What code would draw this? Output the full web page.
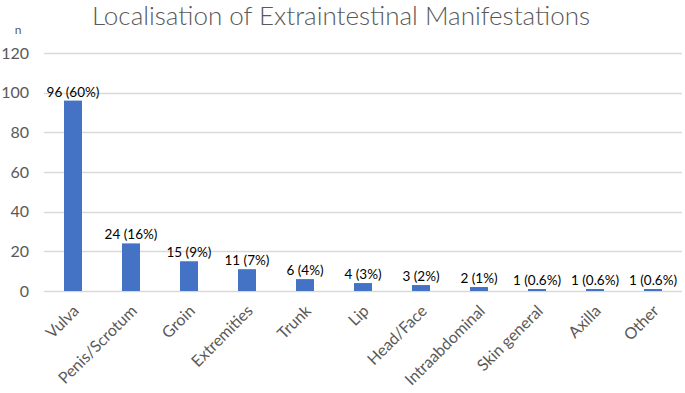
<!DOCTYPE html>
<html>
<head>
<meta charset="utf-8">
<script src="https://cdn.jsdelivr.net/npm/d3@7"></script>
<style>
  body { margin: 0; background: #fff; }
</style>
</head>
<body>
<div id="chart"></div>
<script>
// categories and counts
const categories = ["Vulva", "Penis/Scrotum", "Groin", "Extremities", "Trunk", "Lip",
  "Head/Face", "Intraabdominal", "Skin general", "Axilla", "Other"];
const counts = [96, 24, 15, 11, 6, 4, 3, 2, 1, 1, 1];
const percents = ["60%", "16%", "9%", "7%", "4%", "3%", "2%", "1%", "0.6%", "0.6%", "0.6%"];
const yTicks = [0, 20, 40, 60, 80, 100, 120];

const width = 685;
const height = 393;
const margin = { top: 53, right: 3, bottom: 102, left: 44 };

const font = "Lato, Carlito, 'Open Sans', sans-serif";

let svg = d3
  .select("#chart")
  .append("svg")
  .attr("width", width)
  .attr("height", height)
  .style("display", "block");

// title
svg
  .append("text")
  .attr("x", 341)
  .attr("y", 25)
  .attr("text-anchor", "middle")
  .style("font-family", font)
  .style("font-weight", 300)
  .style("font-size", "26px")
  .style("fill", "#595959")
  .text("Localisation of Extraintestinal Manifestations");

// axis title
svg
  .append("text")
  .attr("x", 18)
  .attr("y", 34)
  .attr("text-anchor", "middle")
  .style("font-family", font)
  .style("font-size", "12px")
  .style("fill", "#595959")
  .text("n");

const x = d3
  .scaleBand()
  .domain(categories)
  .range([margin.left, width - margin.right])
  .paddingInner(0.69)
  .paddingOuter(0.345);

const y = d3
  .scaleLinear()
  .domain([0, 120])
  .range([height - margin.bottom, margin.top]);

// gridlines
svg
  .append("g")
  .selectAll("line")
  .data(yTicks)
  .enter()
  .append("line")
  .attr("x1", margin.left)
  .attr("x2", width - margin.right)
  .attr("y1", (d) => Math.round(y(d)) + 0.5)
  .attr("y2", (d) => Math.round(y(d)) + 0.5)
  .attr("stroke", "#d9d9d9")
  .attr("stroke-width", 1.3);

// y tick labels
svg
  .append("g")
  .selectAll("text")
  .data(yTicks)
  .enter()
  .append("text")
  .attr("x", 29)
  .attr("y", (d) => y(d))
  .attr("dy", "0.35em")
  .attr("text-anchor", "end")
  .style("font-family", font)
  .style("font-size", "16px")
  .style("fill", "#595959")
  .text((d) => d);

const data = categories.map((c, i) => ({ cat: c, n: counts[i], pct: percents[i] }));

// bars
svg
  .append("g")
  .selectAll("rect")
  .data(data)
  .enter()
  .append("rect")
  .attr("x", (d) => x(d.cat))
  .attr("width", x.bandwidth())
  .attr("y", (d) => y(d.n))
  .attr("height", (d) => y(0) - y(d.n))
  .attr("fill", "#4472c4");

// value labels
svg
  .append("g")
  .selectAll("text")
  .data(data)
  .enter()
  .append("text")
  .attr("x", (d) => x(d.cat) + x.bandwidth() / 2)
  .attr("y", (d) => y(d.n) - 4)
  .attr("text-anchor", "middle")
  .style("font-family", font)
  .style("font-size", "13.5px")
  .style("fill", "#000")
  .text((d) => `${d.n} (${d.pct})`);

// category labels, rotated
svg
  .append("g")
  .selectAll("text")
  .data(categories)
  .enter()
  .append("text")
  .attr("transform", (d) => `translate(${x(d) + x.bandwidth() / 2 + 3},${y(0) + 17}) rotate(-45)`)
  .attr("text-anchor", "end")
  .attr("dy", "0.35em")
  .style("font-family", font)
  .style("font-size", "16px")
  .style("fill", "#595959")
  .text((d) => d);
</script>
</body>
</html>
